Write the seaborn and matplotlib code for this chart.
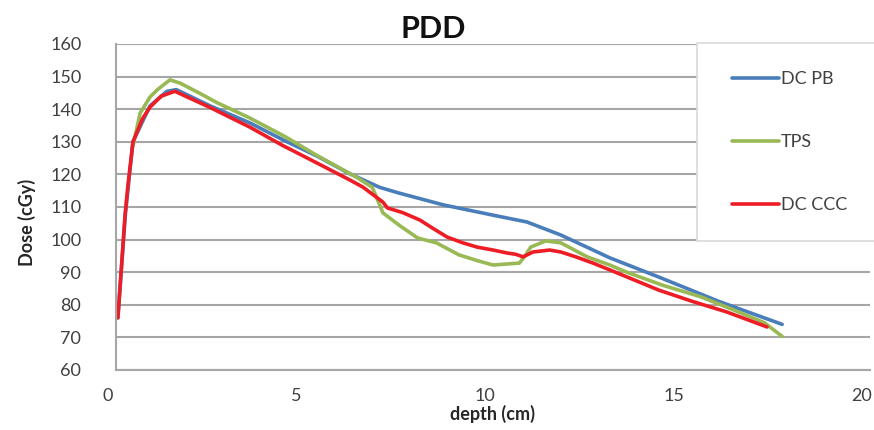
import matplotlib
matplotlib.use("Agg")
import matplotlib.pyplot as plt
from matplotlib.patches import Rectangle
from matplotlib.transforms import ScaledTranslation
import seaborn as sns
import pandas as pd

# ---- data ----
pb_depth = [0.05, 0.25, 0.45, 0.9, 1.35, 1.6, 2.5, 3.55, 4.5, 5.3, 6.2, 7.0, 7.5,
            8.7, 10.0, 10.9, 11.8, 13.1, 14.4, 16.0, 17.67]
pb_dose = [76, 108, 130, 141, 145.5, 146, 141, 135.8, 130.2, 125.8, 120.2, 116, 114.3,
           110.6, 107.5, 105.4, 101.4, 94.4, 88.5, 81, 74]

tps_depth = [0.45, 0.64, 0.9, 1.1, 1.43, 1.7, 2.2, 2.68, 3.55, 4.5, 5.33, 6.4, 6.8,
             7.08, 7.5, 8.0, 8.5, 9.1, 9.6, 10.0, 10.7, 10.85, 11.0, 11.4, 11.8,
             12.5, 13.1, 13.55, 14.5, 15.5, 16.2, 17.2, 17.67]
tps_dose = [128.7, 138.8, 143.7, 146, 149, 148, 145, 142, 137.3, 131.5, 125.8, 119, 116,
            108.2, 104.5, 100.5, 99, 95.3, 93.5, 92.2, 92.8, 95, 97.7, 99.6, 99,
            94.7, 92.2, 90, 86, 82.5, 79.3, 74.5, 70.3]

ccc_depth = [0.05, 0.24, 0.32, 0.45, 0.7, 0.9, 1.2, 1.56, 2.5, 3.55, 4.4, 5.33, 6.2,
             6.55, 7.08, 7.2, 7.6, 8.06, 8.4, 8.78, 9.2, 9.58, 10.0, 10.37, 10.6,
             10.8, 11.06, 11.5, 11.8, 12.2, 12.65, 13.1, 14.4, 15.3, 16.2, 17.27]
ccc_dose = [76, 107.5, 117, 130, 137, 140.6, 144, 145.5, 140.5, 134.5, 129, 123.5, 118.3,
            116.1, 111.5, 109.7, 108.3, 106, 103.5, 100.8, 99, 97.7, 96.8, 95.9, 95.5,
            94.7, 96.2, 96.8, 96.2, 94.7, 92.8, 90.7, 84.5, 81, 77.8, 73.2]

series_names = ["DC PB", "TPS", "DC CCC"]
series_colors = ["#4A7EBB", "#98B954", "#EE1C25"]
x_ticks = [0, 5, 10, 15, 20]
y_ticks = [60, 70, 80, 90, 100, 110, 120, 130, 140, 150, 160]

df = pd.concat([
    pd.DataFrame({"depth": pb_depth, "dose": pb_dose, "series": series_names[0]}),
    pd.DataFrame({"depth": tps_depth, "dose": tps_dose, "series": series_names[1]}),
    pd.DataFrame({"depth": ccc_depth, "dose": ccc_dose, "series": series_names[2]}),
])

sns.set_style("white")
plt.rcParams["font.family"] = ["Lato", "DejaVu Sans"]

fig = plt.figure(figsize=(8.74, 4.30), dpi=100)
ax = fig.add_axes([116 / 874, 1 - 370 / 430, 754 / 874, 326 / 430])

sns.lineplot(data=df, x="depth", y="dose", hue="series", hue_order=series_names,
             palette=series_colors, estimator=None, sort=False, linewidth=2.6,
             legend=False, ax=ax)

ax.set_xlim(0, 20)
ax.set_ylim(60, 160)
ax.set_xticks(x_ticks)
ax.set_yticks(y_ticks)
ax.yaxis.grid(True, color="#A6A6A6", linewidth=1.5)
ax.set_axisbelow(True)
for s in ["top", "right"]:
    ax.spines[s].set_visible(False)
for s in ["left", "bottom"]:
    ax.spines[s].set_color("#A6A6A6")
    ax.spines[s].set_linewidth(1.5)

ax.tick_params(axis="y", direction="out", length=5, width=1.5, color="#A6A6A6",
               labelsize=13, labelcolor="#404040", pad=20)
ax.tick_params(axis="x", direction="out", length=4, width=1.5, color="#A6A6A6",
               labelsize=13, labelcolor="#404040", pad=9)
for lab in ax.get_xticklabels():
    lab.set_transform(lab.get_transform() + ScaledTranslation(-8 / 100, 0, fig.dpi_scale_trans))

ax.set_xlabel("depth (cm)", fontsize=13, fontweight="bold", color="#262626")
ax.xaxis.set_label_coords(0.5, -(405 - 370) / 326)
ax.set_ylabel("Dose (cGy)", fontsize=13, fontweight="bold", color="#262626", va="center")
ax.yaxis.set_label_coords((27 - 116) / 754, 1 - (222 - 44) / 326)

fig.suptitle("PDD", x=433 / 874, y=1 - 29 / 430, va="center", fontsize=22,
             fontweight="bold", color="#111111")

# legend box
rect = Rectangle((697 / 874, 1 - 241 / 430), 200 / 874, 198 / 430,
                 transform=fig.transFigure, facecolor="white", edgecolor="#D9D9D9",
                 linewidth=1.2, zorder=3)
fig.add_artist(rect)
handles = ax.get_lines()[:3]
fig.legend(handles, series_names, loc="center left",
           bbox_to_anchor=(716 / 874, 1 - 142 / 430), frameon=False,
           fontsize=13, handlelength=2.6, handletextpad=0.1, labelspacing=2.6,
           labelcolor="#404040")

fig.savefig("out.png", dpi=100, facecolor="white")
